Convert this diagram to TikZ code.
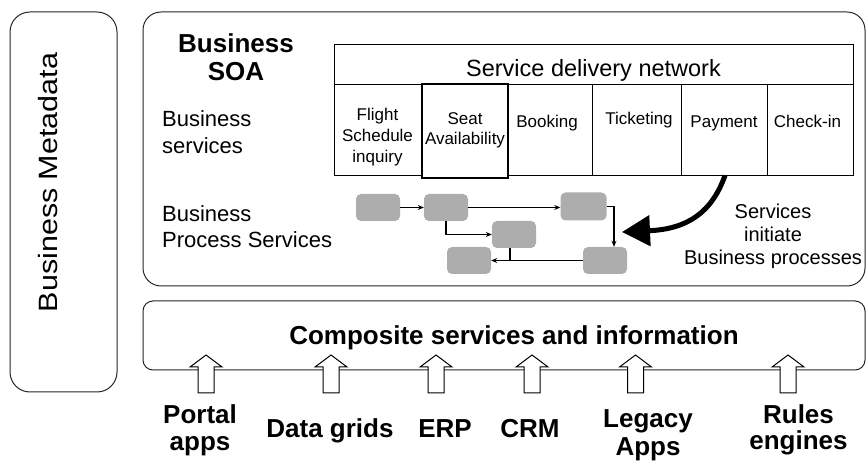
\documentclass[tikz,border=0pt]{standalone}
\usepackage{fontspec}
\setmainfont{Liberation Sans}
\usetikzlibrary{arrows.meta}
\definecolor{procgray}{HTML}{ADADAD}
\tikzset{
  panel/.style={draw=black!85, line width=1pt, inner sep=0pt},
  cellbox/.style={draw=black, line width=0.9pt, inner sep=0pt, minimum height=91pt},
  proc/.style={fill=procgray, rounded corners=5pt, minimum width=44pt, minimum height=27pt, inner sep=0pt},
  flow/.style={-{Stealth[length=6pt,width=5pt]}, line width=1.1pt},
  bigflow/.style={-{Triangle[length=28pt,width=30pt]}, line width=5pt},
  lbl/.style={inner sep=0pt, font=\fontsize{22}{27}\selectfont, align=left},
  celltxt/.style={inner sep=0pt, font=\fontsize{17}{21}\selectfont, align=center},
  boldtxt/.style={inner sep=0pt, font=\bfseries\fontsize{26}{27}\selectfont, align=center},
  blockup/.pic={\draw[line width=1pt, fill=white] (-8,0) -- (-8,-26) -- (-16,-26) -- (0,-38) -- (16,-26) -- (8,-26) -- (8,0) -- cycle;}
}
\begin{document}
\begin{tikzpicture}[x=1pt,y=-1pt]
\useasboundingbox (0,0) rectangle (868,462);
% panels
\node[panel, rounded corners=20pt, minimum width=107pt, minimum height=380pt] (meta) at (63.5,202) {};
\node[rotate=90, anchor=base, inner sep=0pt, font=\fontsize{26.5}{30}\selectfont] (metatxt) at (57,182.5) {\scalebox{1.15}[1]{Business Metadata}};
\node[panel, rounded corners=18pt, minimum width=722pt, minimum height=274pt] (soa) at (504,149) {};
\node[panel, rounded corners=10pt, minimum width=722pt, minimum height=69pt] (comp) at (504,335.5) {};
% left labels
\node[boldtxt, anchor=north, font=\bfseries\fontsize{26}{28}\selectfont] (soatitle) at (236,33.4) {Business\\SOA};
\node[lbl, anchor=north west] (bs) at (162,110.3) {Business\\services};
\node[lbl, anchor=north west, font=\fontsize{22}{26}\selectfont] (bps) at (162,205.3) {Business\\Process Services};
% service table
\node[draw, line width=0.9pt, minimum width=519pt, minimum height=40pt, inner sep=0pt] (sdn) at (593.5,64) {};
\node[inner sep=0pt, anchor=base, font=\fontsize{23.5}{28}\selectfont] (sdntxt) at (593.5,77) {Service delivery network};
\node[cellbox, minimum width=87pt] (c1) at (377.5,129.5) {};
\node[cellbox, minimum width=84pt] (c3) at (550,129.5) {};
\node[cellbox, minimum width=89pt] (c4) at (636.5,129.5) {};
\node[cellbox, minimum width=86pt] (pay) at (724,129.5) {};
\node[cellbox, minimum width=86pt] (c6) at (810,129.5) {};
\node[draw, line width=1.4pt, inner sep=0pt, minimum width=86pt, minimum height=94pt] (seat) at (465,131) {};
\node[celltxt, anchor=north] (t1) at (377.5,107.8) {Flight\\Schedule\\inquiry};
\node[celltxt, anchor=north, font=\fontsize{17}{20}\selectfont] (t2) at (465,112.4) {Seat\\Availability};
\node[celltxt, anchor=base] (t3) at (547,128) {Booking};
\node[celltxt, anchor=base] (t4) at (639,125) {Ticketing};
\node[celltxt, anchor=base] (t5) at (724,128) {Payment};
\node[celltxt, anchor=base] (t6) at (807.5,128) {Check-in};
% process boxes
\node[proc] (b1) at (378,207.5) {};
\node[proc] (b2) at (446,207.5) {};
\node[proc, minimum width=46pt, minimum height=28pt] (b3) at (583.5,206.5) {};
\node[proc] (b4) at (514,234.5) {};
\node[proc] (b5) at (469,260.5) {};
\node[proc] (b6) at (605,260.5) {};
\draw[flow] (b1) -- (b2);
\draw[flow] (b2.east) -- (b2.east -| b3.west);
\draw[flow] (b2.south) |- (b4.west);
\draw[flow] (b3.east) -| ([xshift=9pt]b6.north);
\draw[flow] (b6) -- (b5);
\draw[line width=1.1pt] ([xshift=-4pt]b4.south) -- ([xshift=-4pt]b4.south |- b5.east);
% big arrow
\coordinate (tip) at (622,232);
\draw[bigflow] ([xshift=1pt]pay.south) .. controls (712,212) and (688,229) .. (tip);
\node[inner sep=0pt, anchor=north, align=center, font=\fontsize{20}{23}\selectfont] (initxt) at (773,203.7) {Services\\initiate\\Business processes};
% composite
\node[inner sep=0pt, anchor=base, font=\bfseries\fontsize{26}{30}\selectfont] (comptxt) at (514,345) {Composite services and information};
\pic at (206,393) {blockup};
\pic at (331,393) {blockup};
\pic at (436,393) {blockup};
\pic at (532,393) {blockup};
\pic at (635.5,393) {blockup};
\pic at (788,393) {blockup};
\node[boldtxt, anchor=north] (portal) at (200,404.4) {Portal\\apps};
\node[boldtxt, anchor=base] (grids) at (330,437) {Data grids};
\node[boldtxt, anchor=base] (erp) at (445,437) {ERP};
\node[boldtxt, anchor=base] (crm) at (530,437) {CRM};
\node[boldtxt, anchor=north, font=\bfseries\fontsize{26}{28}\selectfont] (legacy) at (648,409.4) {Legacy\\Apps};
\node[boldtxt, anchor=north, font=\bfseries\fontsize{26}{26}\selectfont] (rules) at (798.5,404.4) {Rules\\engines};
\end{tikzpicture}
\end{document}
